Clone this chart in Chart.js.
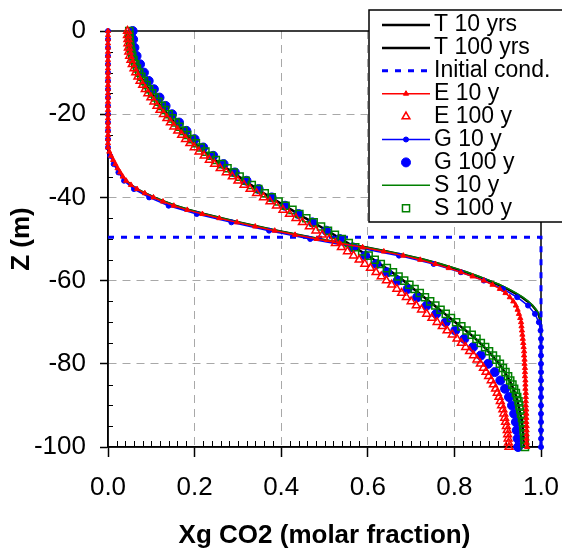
<!DOCTYPE html>
<html>
<head>
<meta charset="utf-8">
<script src="https://cdn.jsdelivr.net/npm/chart.js@4.4.0/dist/chart.umd.min.js"></script>
<style>
  html, body { margin: 0; padding: 0; background: #fff; }
  #wrap { width: 562px; height: 549px; }
</style>
</head>
<body>
<div id="wrap"><canvas id="grafico" width="562" height="549"></canvas></div>
<script>
// profundidade (m) - malha de 1 m (E, S, T) e de 2 m (G)
const depth1m = [
  0, -1, -2, -3, -4, -5, -6, -7, -8, -9,
  -10, -11, -12, -13, -14, -15, -16, -17, -18, -19,
  -20, -21, -22, -23, -24, -25, -26, -27, -28, -29,
  -30, -31, -32, -33, -34, -35, -36, -37, -38, -39,
  -40, -41, -42, -43, -44, -45, -46, -47, -48, -49,
  -50, -51, -52, -53, -54, -55, -56, -57, -58, -59,
  -60, -61, -62, -63, -64, -65, -66, -67, -68, -69,
  -70, -71, -72, -73, -74, -75, -76, -77, -78, -79,
  -80, -81, -82, -83, -84, -85, -86, -87, -88, -89,
  -90, -91, -92, -93, -94, -95, -96, -97, -98, -99,
  -100
];
const depth2m = [
  0, -2, -4, -6, -8, -10, -12, -14, -16, -18,
  -20, -22, -24, -26, -28, -30, -32, -34, -36, -38,
  -40, -42, -44, -46, -48, -50, -52, -54, -56, -58,
  -60, -62, -64, -66, -68, -70, -72, -74, -76, -78,
  -80, -82, -84, -86, -88, -90, -92, -94, -96, -98,
  -100
];

// condicao inicial
const initX = [0, 1, 1];
const initZ = [-49.6, -49.6, -100];

// T 10 yrs
const t10 = [
  0, 0, 0, 0, 0, 0, 0, 0, 0, 0,
  0, 0, 0, 0, 0, 0, 0, 0, 0, 0,
  0, 0, 0, 0, 0, 0, 0, 0, 0, 0.003,
  0.007, 0.012, 0.017, 0.022, 0.028, 0.034, 0.042, 0.053, 0.067, 0.085,
  0.106, 0.130, 0.155, 0.187, 0.222, 0.262, 0.303, 0.345, 0.390, 0.437,
  0.487, 0.540, 0.594, 0.644, 0.690, 0.730, 0.766, 0.798, 0.827, 0.854,
  0.879, 0.902, 0.922, 0.940, 0.956, 0.969, 0.980, 0.988, 0.994, 0.997,
  0.999, 1, 1, 1, 1, 1, 1, 1, 1, 1,
  1, 1, 1, 1, 1, 1, 1, 1, 1, 1,
  1, 1, 1, 1, 1, 1, 1, 1, 1, 1,
  1
];
// T 100 yrs
const t100 = [
  0.047, 0.047, 0.048, 0.049, 0.050, 0.052, 0.055, 0.058, 0.062, 0.066,
  0.071, 0.076, 0.082, 0.088, 0.094, 0.101, 0.108, 0.115, 0.122, 0.130,
  0.138, 0.146, 0.154, 0.163, 0.172, 0.181, 0.191, 0.201, 0.212, 0.223,
  0.235, 0.247, 0.260, 0.274, 0.288, 0.302, 0.316, 0.330, 0.345, 0.360,
  0.376, 0.392, 0.408, 0.424, 0.440, 0.456, 0.473, 0.490, 0.506, 0.522,
  0.538, 0.554, 0.569, 0.585, 0.600, 0.614, 0.628, 0.642, 0.656, 0.669,
  0.682, 0.694, 0.706, 0.718, 0.730, 0.742, 0.754, 0.766, 0.778, 0.790,
  0.802, 0.814, 0.826, 0.838, 0.849, 0.859, 0.869, 0.878, 0.887, 0.895,
  0.903, 0.910, 0.916, 0.922, 0.927, 0.932, 0.936, 0.940, 0.943, 0.946,
  0.948, 0.950, 0.952, 0.954, 0.956, 0.957, 0.958, 0.959, 0.960, 0.960,
  0.961
];
// E 10 y
const e10 = [
  0, 0, 0, 0, 0, 0, 0, 0, 0, 0,
  0, 0, 0, 0, 0, 0, 0, 0, 0, 0,
  0, 0, 0, 0, 0, 0, 0, 0, 0, 0.003,
  0.007, 0.012, 0.017, 0.022, 0.028, 0.034, 0.042, 0.053, 0.067, 0.085,
  0.105, 0.127, 0.152, 0.183, 0.218, 0.257, 0.298, 0.340, 0.385, 0.432,
  0.482, 0.535, 0.588, 0.637, 0.682, 0.721, 0.756, 0.787, 0.815, 0.842,
  0.868, 0.888, 0.905, 0.918, 0.928, 0.936, 0.942, 0.946, 0.949, 0.952,
  0.954, 0.955, 0.956, 0.957, 0.958, 0.959, 0.960, 0.961, 0.961, 0.962,
  0.962, 0.963, 0.963, 0.963, 0.964, 0.964, 0.964, 0.965, 0.965, 0.965,
  0.965, 0.966, 0.966, 0.966, 0.966, 0.967, 0.967, 0.967, 0.967, 0.967,
  0.968
];
// E 100 y
const e100 = [
  0.045, 0.045, 0.046, 0.046, 0.047, 0.048, 0.050, 0.053, 0.056, 0.060,
  0.064, 0.069, 0.074, 0.080, 0.086, 0.092, 0.099, 0.106, 0.113, 0.120,
  0.128, 0.136, 0.144, 0.152, 0.161, 0.170, 0.179, 0.189, 0.199, 0.210,
  0.222, 0.234, 0.246, 0.259, 0.273, 0.287, 0.300, 0.314, 0.328, 0.343,
  0.359, 0.374, 0.389, 0.404, 0.419, 0.434, 0.449, 0.465, 0.480, 0.495,
  0.511, 0.525, 0.539, 0.553, 0.567, 0.580, 0.593, 0.606, 0.619, 0.631,
  0.643, 0.655, 0.667, 0.678, 0.689, 0.700, 0.712, 0.724, 0.736, 0.748,
  0.760, 0.772, 0.783, 0.795, 0.806, 0.816, 0.826, 0.835, 0.844, 0.852,
  0.860, 0.867, 0.873, 0.879, 0.885, 0.890, 0.895, 0.899, 0.903, 0.906,
  0.909, 0.912, 0.914, 0.916, 0.918, 0.920, 0.922, 0.923, 0.924, 0.925,
  0.926
];
// G 10 y (malha de 2 m)
const g10 = [
  0, 0, 0, 0, 0, 0, 0, 0, 0, 0,
  0, 0, 0, 0, 0, 0.005, 0.013, 0.024, 0.037, 0.060,
  0.095, 0.140, 0.205, 0.285, 0.372, 0.467, 0.572, 0.672, 0.752, 0.815,
  0.868, 0.912, 0.945, 0.970, 0.986, 0.995, 0.999, 1, 1, 1,
  1, 1, 1, 1, 1, 1, 1, 1, 1, 1,
  1
];
// G 100 y (malha de 2 m)
const g100 = [
  0.057, 0.058, 0.061, 0.066, 0.074, 0.083, 0.094, 0.106, 0.119, 0.133,
  0.148, 0.164, 0.181, 0.200, 0.220, 0.243, 0.267, 0.293, 0.320, 0.348,
  0.378, 0.409, 0.440, 0.472, 0.504, 0.535, 0.565, 0.594, 0.620, 0.645,
  0.669, 0.692, 0.714, 0.736, 0.758, 0.780, 0.802, 0.823, 0.843, 0.861,
  0.878, 0.893, 0.906, 0.917, 0.926, 0.933, 0.938, 0.942, 0.944, 0.946,
  0.947
];
// S 10 y
const s10 = [
  0, 0, 0, 0, 0, 0, 0, 0, 0, 0,
  0, 0, 0, 0, 0, 0, 0, 0, 0, 0,
  0, 0, 0, 0, 0, 0, 0, 0, 0, 0.003,
  0.007, 0.012, 0.017, 0.023, 0.029, 0.035, 0.043, 0.054, 0.068, 0.087,
  0.108, 0.132, 0.158, 0.190, 0.225, 0.265, 0.306, 0.348, 0.393, 0.440,
  0.490, 0.543, 0.597, 0.647, 0.693, 0.733, 0.769, 0.801, 0.830, 0.857,
  0.882, 0.905, 0.925, 0.943, 0.958, 0.971, 0.981, 0.989, 0.995, 0.998,
  0.999, 1, 1, 1, 1, 1, 1, 1, 1, 1,
  1, 1, 1, 1, 1, 1, 1, 1, 1, 1,
  1, 1, 1, 1, 1, 1, 1, 1, 1, 1,
  1
];
// S 100 y
const s100 = [
  0.049, 0.049, 0.050, 0.051, 0.052, 0.054, 0.056, 0.059, 0.063, 0.067,
  0.072, 0.077, 0.083, 0.089, 0.095, 0.102, 0.109, 0.116, 0.124, 0.132,
  0.140, 0.148, 0.156, 0.165, 0.174, 0.183, 0.193, 0.203, 0.214, 0.225,
  0.237, 0.249, 0.262, 0.276, 0.290, 0.304, 0.318, 0.332, 0.347, 0.362,
  0.378, 0.394, 0.410, 0.426, 0.442, 0.458, 0.475, 0.492, 0.508, 0.524,
  0.540, 0.556, 0.571, 0.587, 0.602, 0.616, 0.630, 0.644, 0.658, 0.671,
  0.684, 0.696, 0.708, 0.720, 0.732, 0.744, 0.756, 0.768, 0.780, 0.792,
  0.804, 0.816, 0.828, 0.840, 0.851, 0.861, 0.871, 0.880, 0.889, 0.897,
  0.905, 0.912, 0.918, 0.924, 0.929, 0.934, 0.938, 0.942, 0.945, 0.948,
  0.950, 0.952, 0.954, 0.956, 0.958, 0.959, 0.960, 0.961, 0.962, 0.962,
  0.963
];

const xTicks = [0, 0.2, 0.4, 0.6, 0.8, 1.0];
const zTicks = [0, -20, -40, -60, -80, -100];

const VERMELHO = '#ff0000';
const AZUL = '#0000ff';
const VERDE = '#008000';
const FONTE = '"Liberation Sans", Arial, sans-serif';

const pontos = (xs, zs) => xs.map((x, i) => ({ x: x, y: zs[i] }));

// ordem da legenda = ordem do array; "order" controla o desenho (menor = por cima)
const datasets = [
  { label: 'T 10 yrs', data: pontos(t10, depth1m), showLine: true, borderColor: '#000', borderWidth: 2.5, pointRadius: 0, order: 8 },
  { label: 'T 100 yrs', data: pontos(t100, depth1m), showLine: true, borderColor: '#000', borderWidth: 2.5, pointRadius: 0, order: 7 },
  { label: 'Initial cond.', data: pontos(initX, initZ), showLine: true, borderColor: AZUL, borderWidth: 3, borderDash: [6, 7], pointRadius: 0, order: 5 },
  { label: 'E 10 y', data: pontos(e10, depth1m), showLine: true, borderColor: VERMELHO, borderWidth: 1.5,
    pointStyle: 'triangle', pointRadius: 3, pointBackgroundColor: VERMELHO, pointBorderColor: VERMELHO, pointBorderWidth: 1, order: 0 },
  { label: 'E 100 y', data: pontos(e100, depth1m), showLine: false, borderColor: VERMELHO,
    pointStyle: 'triangle', pointRadius: 4.5, pointBackgroundColor: 'rgba(0,0,0,0)', pointBorderColor: VERMELHO, pointBorderWidth: 1.5, order: 1 },
  { label: 'G 10 y', data: pontos(g10, depth2m), showLine: true, borderColor: AZUL, borderWidth: 1.5,
    pointStyle: 'circle', pointRadius: 2.5, pointBackgroundColor: AZUL, pointBorderColor: AZUL, pointBorderWidth: 1, order: 3 },
  { label: 'G 100 y', data: pontos(g100, depth2m), showLine: false, borderColor: AZUL,
    pointStyle: 'circle', pointRadius: 4.5, pointBackgroundColor: AZUL, pointBorderColor: AZUL, pointBorderWidth: 1, order: 4 },
  { label: 'S 10 y', data: pontos(s10, depth1m), showLine: true, borderColor: VERDE, borderWidth: 1.5, pointRadius: 0, order: 6 },
  { label: 'S 100 y', data: pontos(s100, depth1m), showLine: false, borderColor: VERDE,
    pointStyle: 'rect', pointRadius: 5, pointBackgroundColor: 'rgba(0,0,0,0)', pointBorderColor: VERDE, pointBorderWidth: 1.5, order: 2 }
];
datasets.forEach(ds => { ds.clip = false; ds.tension = 0; ds.pointHoverRadius = ds.pointRadius; });

// marcador da legenda
function desenhaMarcador(ctx, ds, x, y) {
  const r = ds.pointRadius;
  ctx.save();
  ctx.setLineDash([]);
  ctx.lineWidth = ds.pointBorderWidth;
  ctx.strokeStyle = ds.pointBorderColor;
  ctx.fillStyle = ds.pointBackgroundColor;
  ctx.beginPath();
  if (ds.pointStyle === 'triangle') {
    let rad = 0;
    ctx.moveTo(x + Math.sin(rad) * r, y - Math.cos(rad) * r);
    rad += 2 * Math.PI / 3;
    ctx.lineTo(x + Math.sin(rad) * r, y - Math.cos(rad) * r);
    rad += 2 * Math.PI / 3;
    ctx.lineTo(x + Math.sin(rad) * r, y - Math.cos(rad) * r);
    ctx.closePath();
  } else if (ds.pointStyle === 'rect') {
    const s = r * Math.SQRT1_2;
    ctx.rect(x - s, y - s, 2 * s, 2 * s);
  } else {
    ctx.arc(x, y, r, 0, 2 * Math.PI);
  }
  ctx.fill();
  ctx.stroke();
  ctx.restore();
}

// moldura e ticks menores para dentro
const molduraPlugin = {
  id: 'moldura',
  beforeDatasetsDraw(chart) {
    const { ctx, chartArea: a, scales } = chart;
    ctx.save();
    ctx.strokeStyle = '#000';
    ctx.lineWidth = 1;
    ctx.beginPath();
    for (let v = -95; v < 0; v += 5) {
      if (v % 20 === 0) continue;
      const py = Math.round(scales.y.getPixelForValue(v)) + 0.5;
      ctx.moveTo(a.left, py);
      ctx.lineTo(a.left + 5, py);
    }
    for (let k = 1; k < 50; k++) {
      if (k % 10 === 0) continue;
      const px = Math.round(scales.x.getPixelForValue(k / 50)) + 0.5;
      ctx.moveTo(px, a.bottom);
      ctx.lineTo(px, a.bottom - 6);
    }
    ctx.stroke();
    ctx.lineWidth = 1.5;
    ctx.strokeRect(a.left, a.top, a.right - a.left, a.bottom - a.top);
    ctx.restore();
  }
};

// legenda desenhada na mao
const legendaPlugin = {
  id: 'legendaBox',
  afterDraw(chart) {
    const ctx = chart.ctx;
    ctx.save();
    ctx.fillStyle = '#fff';
    ctx.fillRect(369, 10, 240, 212);
    ctx.strokeStyle = '#000';
    ctx.lineWidth = 1.5;
    ctx.strokeRect(369, 10, 240, 212);
    ctx.font = '23px ' + FONTE;
    ctx.textBaseline = 'middle';
    ctx.textAlign = 'left';
    chart.data.datasets.forEach((ds, i) => {
      const y = 25 + i * 22.9;
      if (ds.showLine) {
        ctx.save();
        ctx.setLineDash(ds.borderDash || []);
        ctx.strokeStyle = ds.borderColor;
        ctx.lineWidth = ds.borderWidth;
        ctx.beginPath();
        ctx.moveTo(382, y);
        ctx.lineTo(430, y);
        ctx.stroke();
        ctx.restore();
      }
      if (ds.pointRadius > 0) desenhaMarcador(ctx, ds, 406, y);
      ctx.fillStyle = '#000';
      ctx.fillText(ds.label, 434, y);
    });
    ctx.restore();
  }
};

const semBorda = (c, cor) => (c.tick && (c.tick.value === 0 || c.tick.value === 1 || c.tick.value === -100)) ? 'rgba(0,0,0,0)' : cor;

new Chart(document.getElementById('grafico').getContext('2d'), {
  type: 'scatter',
  data: { datasets: datasets },
  options: {
    responsive: false,
    animation: false,
    devicePixelRatio: 1,
    events: [],
    layout: { padding: { top: 31, right: 21, left: 0, bottom: 0 } },
    plugins: { legend: { display: false }, tooltip: { enabled: false } },
    scales: {
      x: {
        type: 'linear', min: xTicks[0], max: xTicks[xTicks.length - 1],
        afterBuildTicks: s => { s.ticks = xTicks.map(v => ({ value: v })); },
        ticks: { color: '#000', font: { family: FONTE, size: 26 }, padding: 15, maxRotation: 0,
                 callback: v => Number(v).toFixed(1) },
        grid: { color: c => semBorda(c, '#a8a8a8'), lineWidth: 1, tickColor: '#000', tickLength: 10, tickWidth: 1.5 },
        border: { display: true, color: '#000', width: 1.5, dash: [8, 6] },
        title: { display: true, text: 'Xg CO2 (molar fraction)', color: '#000',
                 font: { family: FONTE, size: 26, weight: 'bold' }, padding: { top: 0, bottom: -2 } },
        afterFit: s => { s.height = 102; s.paddingLeft = 0; s.paddingRight = 0; }
      },
      y: {
        type: 'linear', min: zTicks[zTicks.length - 1], max: zTicks[0],
        afterBuildTicks: s => { s.ticks = zTicks.slice().reverse().map(v => ({ value: v })); },
        ticks: { color: '#000', font: { family: FONTE, size: 26 }, padding: 14,
                 callback: v => String(v) },
        grid: { color: c => semBorda(c, '#a8a8a8'), lineWidth: 1, tickColor: '#000', tickLength: 8, tickWidth: 1.5 },
        border: { display: true, color: '#000', width: 1.5, dash: [8, 6] },
        title: { display: true, text: 'Z (m)', color: '#000',
                 font: { family: FONTE, size: 26, weight: 'bold' }, padding: { top: 6, bottom: 0 } },
        afterFit: s => { s.width = 108; s.paddingTop = 0; s.paddingBottom = 0; }
      }
    }
  },
  plugins: [molduraPlugin, legendaPlugin]
});
</script>
</body>
</html>
